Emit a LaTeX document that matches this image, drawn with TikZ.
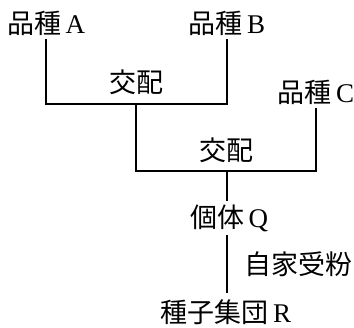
\documentclass[tikz,border=0pt]{standalone}
\usepackage{fontspec}
\setmainfont{Liberation Serif}
\newfontfamily\jpfont{Noto Sans CJK JP}
\newcommand{\jp}[1]{{\jpfont #1}}

\begin{document}
\begin{tikzpicture}[x=1pt, y=-1pt, line width=1.3pt,
	every node/.style={font=\fontsize{27}{30}\selectfont, inner sep=3pt}]

	\useasboundingbox (0,0) rectangle (354,328);

	\node (A) at (46,23) {\jp{品種}\,A};
	\node (B) at (227,23) {\jp{品種}\,B};
	\node (C) at (316,92) {\jp{品種}\,C};

	\coordinate[] (j1) at (136,104);
	\coordinate[] (j2) at (227,171);

	\draw (A.south) |- (j1) -| (B.south);
	\node (cross1) at (136,82) {\jp{交配}};

	\draw (j1) |- (j2) -| (C.south);
	\node (cross2) at (226,150) {\jp{交配}};

	\node (Q) at (229,218) {\jp{個体}\,Q};
	\node[inner sep=1pt] (R) at (226,312) {\jp{種子集団}\,R};

	\draw (j2) -- (j2 |- Q.north);
	\draw (j2 |- Q.south) -- node[right=14pt] (self) {\jp{自家受粉}} ([yshift=5pt]j2 |- R.north);
\end{tikzpicture}
\end{document}
